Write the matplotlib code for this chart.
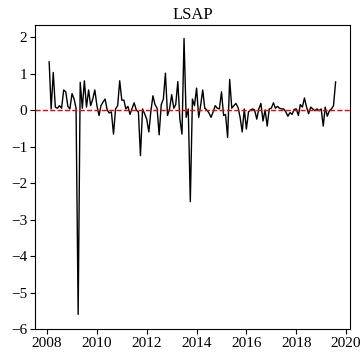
import matplotlib
matplotlib.use("Agg")
import matplotlib.pyplot as plt
import matplotlib.dates as mdates
import numpy as np
import pandas as pd

plt.rcParams['font.family'] = ['Liberation Serif', 'DejaVu Serif']
plt.rcParams['font.size'] = 11

# monthly LSAP shock series, Feb 2008 - Aug 2019
lsap = [
    1.32, 0.03, 1.03, 0.08, 0.05, 0.12, 0.05, 0.55, 0.5, 0.1, 0.03,
    0.45, 0.3, 0.05, -5.6, 0.76, 0.05, 0.8, 0.08, 0.55, 0.12, 0.3, 0.55, 0.12,
    -0.15, 0.12, 0.22, 0.3, 0.0, -0.08, -0.05, -0.66, 0.03, 0.12, 0.8, 0.27,
    0.27, 0.03, 0.1, -0.12, 0.05, 0.2, 0.0, -0.05, -1.25, 0.03, -0.1, -0.25,
    -0.6, -0.05, 0.39, 0.15, 0.05, -0.68, 0.15, 0.3, 1.01, -0.15, 0.03, 0.42,
    0.05, 0.15, 0.78, -0.25, -0.66, 1.96, -0.2, 0.03, -2.51, 0.3, 0.12, 0.6,
    -0.2, 0.12, 0.55, 0.05, 0.0, -0.08, -0.2, -0.05, 0.12, 0.05, 0.03, 0.5,
    -0.15, -0.12, -0.75, 0.84, 0.05, 0.12, 0.18, 0.07, -0.2, -0.6, 0.03, -0.52,
    -0.05, 0.0, 0.03, 0.0, -0.25, 0.03, 0.18, -0.3, 0.0, -0.44, 0.03, 0.05,
    0.2, 0.05, 0.1, 0.05, 0.03, 0.03, -0.05, -0.17, -0.07, -0.12, 0.02, 0.03,
    -0.15, 0.15, 0.08, 0.33, 0.08, -0.1, 0.08, 0.03, -0.02, 0.03, -0.02, 0.03,
    -0.44, 0.08, -0.17, -0.02, 0.03, 0.12, 0.77,
]
dates = pd.date_range('2008-02-01', periods=len(lsap), freq='MS')

fig = plt.figure(figsize=(3.63, 3.53), dpi=100)
ax = fig.add_axes([0.096, 0.068, 0.868, 0.862])
ax.plot(dates, lsap, color='black', linewidth=1)
ax.axhline(0, color='red', linestyle='--', linewidth=1)
ax.set_title('LSAP', fontsize=12, pad=4)
ax.xaxis.set_major_locator(mdates.YearLocator(2))
ax.xaxis.set_major_formatter(mdates.DateFormatter('%Y'))
ax.set_yticks(range(-6, 3))
ax.tick_params(labelsize=11, pad=2)

fig.savefig('out.png', dpi=100)
